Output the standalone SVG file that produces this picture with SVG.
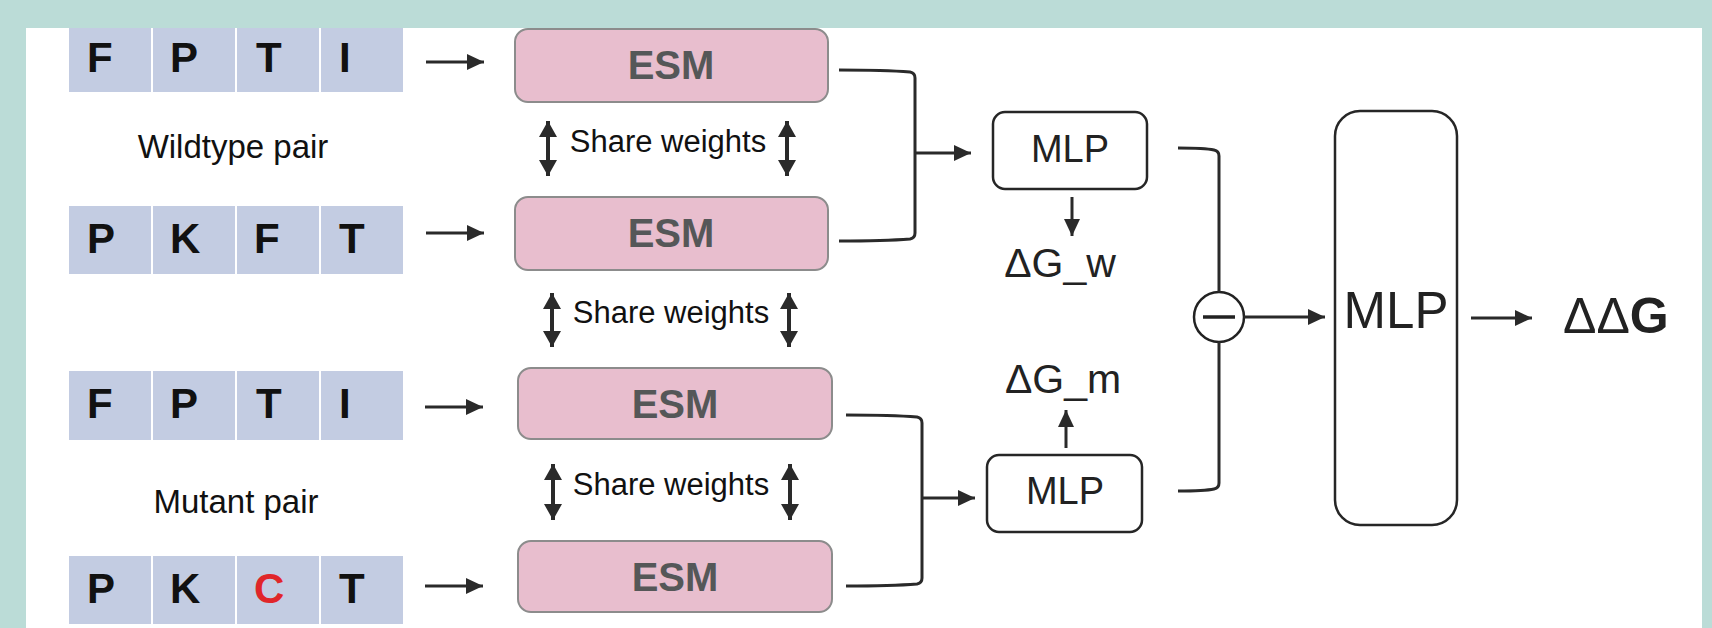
<svg xmlns="http://www.w3.org/2000/svg" width="1712" height="628" viewBox="0 0 1712 628">
<style>
  text { font-family: "Liberation Sans", Arial, sans-serif; }
  .cell { fill: #C3CCE2; }
  .aa { font-size: 42px; font-weight: bold; fill: #111; }
  .red { fill: #E0262A; }
  .lbl { font-size: 33px; fill: #111; text-anchor: middle; }
  .esm rect { fill: #E8BECE; stroke: #8C8C8C; stroke-width: 2; }
  .esm text { font-size: 40px; font-weight: bold; fill: #555758; text-anchor: middle; }
  .sw { font-size: 31px; fill: #111; text-anchor: middle; }
  .mlp rect { fill: #fff; stroke: #262626; stroke-width: 2.5; }
  .mlp text { fill: #222; text-anchor: middle; }
  .dg { font-size: 41px; fill: #222; text-anchor: middle; }
  .ln { fill: none; stroke: #2A2A2A; stroke-width: 3; }
  .ln2 { fill: none; stroke: #2A2A2A; stroke-width: 4; }
</style>
<defs>
  <marker id="ah" markerUnits="userSpaceOnUse" markerWidth="18" markerHeight="18" viewBox="0 0 18 18" refX="17" refY="9" orient="auto">
    <path d="M0,1 L17,9 L0,17 Z" fill="#2A2A2A"/>
  </marker>
  <marker id="ah2" markerUnits="userSpaceOnUse" markerWidth="19" markerHeight="19" viewBox="0 0 19 19" refX="16" refY="9.5" orient="auto-start-reverse">
    <path d="M0,0.5 L16,9.5 L0,18.5 Z" fill="#2A2A2A"/>
  </marker>
</defs>
<rect x="0" y="0" width="1712" height="628" fill="#BBDCD7"/>
<rect x="26" y="28" width="1676" height="600" fill="#FFFFFF"/>

<g id="seq-wt1">
  <rect class="cell" x="69" y="28" width="82" height="64"/>
  <rect class="cell" x="153" y="28" width="82" height="64"/>
  <rect class="cell" x="237" y="28" width="82" height="64"/>
  <rect class="cell" x="321" y="28" width="82" height="64"/>
  <text class="aa" x="87" y="72">F</text>
  <text class="aa" x="170" y="72">P</text>
  <text class="aa" x="256" y="72">T</text>
  <text class="aa" x="339" y="72">I</text>
</g>
<g id="seq-wt2">
  <rect class="cell" x="69" y="206" width="82" height="68"/>
  <rect class="cell" x="153" y="206" width="82" height="68"/>
  <rect class="cell" x="237" y="206" width="82" height="68"/>
  <rect class="cell" x="321" y="206" width="82" height="68"/>
  <text class="aa" x="87" y="253">P</text>
  <text class="aa" x="170" y="253">K</text>
  <text class="aa" x="254" y="253">F</text>
  <text class="aa" x="339" y="253">T</text>
</g>
<g id="seq-mt1">
  <rect class="cell" x="69" y="371" width="82" height="69"/>
  <rect class="cell" x="153" y="371" width="82" height="69"/>
  <rect class="cell" x="237" y="371" width="82" height="69"/>
  <rect class="cell" x="321" y="371" width="82" height="69"/>
  <text class="aa" x="87" y="418">F</text>
  <text class="aa" x="170" y="418">P</text>
  <text class="aa" x="256" y="418">T</text>
  <text class="aa" x="339" y="418">I</text>
</g>
<g id="seq-mt2">
  <rect class="cell" x="69" y="556" width="82" height="68"/>
  <rect class="cell" x="153" y="556" width="82" height="68"/>
  <rect class="cell" x="237" y="556" width="82" height="68"/>
  <rect class="cell" x="321" y="556" width="82" height="68"/>
  <text class="aa" x="87" y="603">P</text>
  <text class="aa" x="170" y="603">K</text>
  <text class="aa red" x="254" y="603">C</text>
  <text class="aa" x="339" y="603">T</text>
</g>
<g id="label-wt"><text class="lbl" x="233" y="158">Wildtype pair</text></g>
<g id="label-mt"><text class="lbl" x="236" y="513">Mutant pair</text></g>

<g id="esm1" class="esm"><rect x="515" y="29" width="313" height="73" rx="13"/><text x="671" y="79">ESM</text></g>
<g id="esm2" class="esm"><rect x="515" y="197" width="313" height="73" rx="13"/><text x="671" y="247">ESM</text></g>
<g id="esm3" class="esm"><rect x="518" y="368" width="314" height="71" rx="13"/><text x="675" y="418">ESM</text></g>
<g id="esm4" class="esm"><rect x="518" y="541" width="314" height="71" rx="13"/><text x="675" y="591">ESM</text></g>

<g id="share1"><text class="sw" x="668" y="152">Share weights</text></g>
<g id="share2"><text class="sw" x="671" y="323">Share weights</text></g>
<g id="share3"><text class="sw" x="671" y="495">Share weights</text></g>

<g id="mlp-w" class="mlp"><rect x="993" y="112" width="154" height="77" rx="12"/><text x="1070" y="162" font-size="38">MLP</text></g>
<g id="mlp-m" class="mlp"><rect x="987" y="455" width="155" height="77" rx="12"/><text x="1065" y="504" font-size="38">MLP</text></g>
<g id="dg-w"><text class="dg" x="1060" y="277">ΔG_w</text></g>
<g id="dg-m"><text class="dg" x="1063" y="393">ΔG_m</text></g>
<g id="minus">
  <circle cx="1219" cy="317" r="25" fill="#fff" stroke="#222" stroke-width="2.5"/>
  <line x1="1203" y1="317" x2="1235" y2="317" stroke="#222" stroke-width="3.5"/>
</g>
<g id="mlp-final" class="mlp"><rect x="1335" y="111" width="122" height="414" rx="25"/><text x="1396" y="328" font-size="51">MLP</text></g>
<g id="ddg"><text x="1563" y="333" font-size="50" fill="#222">ΔΔ<tspan font-weight="bold">G</tspan></text></g>

<g id="connectors">
  <path class="ln" d="M426,62 H484" marker-end="url(#ah)"/>
  <path class="ln" d="M426,233 H484" marker-end="url(#ah)"/>
  <path class="ln" d="M425,407 H483" marker-end="url(#ah)"/>
  <path class="ln" d="M425,586 H483" marker-end="url(#ah)"/>

  <path class="ln2" d="M548,121 V176" marker-start="url(#ah2)" marker-end="url(#ah2)"/>
  <path class="ln2" d="M787,121 V176" marker-start="url(#ah2)" marker-end="url(#ah2)"/>
  <path class="ln2" d="M552,293 V347" marker-start="url(#ah2)" marker-end="url(#ah2)"/>
  <path class="ln2" d="M789,293 V347" marker-start="url(#ah2)" marker-end="url(#ah2)"/>
  <path class="ln2" d="M553,464 V520" marker-start="url(#ah2)" marker-end="url(#ah2)"/>
  <path class="ln2" d="M790,464 V520" marker-start="url(#ah2)" marker-end="url(#ah2)"/>

  <path class="ln" d="M839,70 Q885,70 910,72 Q915,73 915,78 V233 Q915,238 910,239 Q885,241 839,241"/>
  <path class="ln" d="M915,153 H971" marker-end="url(#ah)"/>
  <path class="ln" d="M846,415 Q892,415 917,417 Q922,418 922,423 V578 Q922,583 917,584 Q892,586 846,586"/>
  <path class="ln" d="M922,498 H975" marker-end="url(#ah)"/>

  <path class="ln" d="M1072,197 V236" marker-end="url(#ah)"/>
  <path class="ln" d="M1066,448 V410" marker-end="url(#ah)"/>

  <path class="ln" d="M1178,148 Q1205,148 1214,150 Q1219,151 1219,156 V292"/>
  <path class="ln" d="M1178,491 Q1205,491 1214,489 Q1219,488 1219,483 V342"/>
  <path class="ln" d="M1244,317 H1325" marker-end="url(#ah)"/>
  <path class="ln" d="M1471,318 H1532" marker-end="url(#ah)"/>
</g>
</svg>
